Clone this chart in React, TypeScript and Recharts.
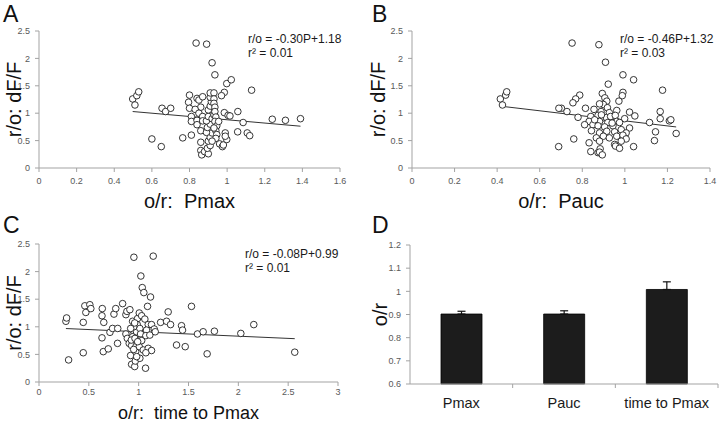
import React from "react";
import {
  ScatterChart,
  Scatter,
  XAxis,
  YAxis,
  ReferenceLine,
  BarChart,
  Bar,
  ErrorBar,
} from "recharts";

const FONT = "'Liberation Sans', Arial, sans-serif";
const AXIS_GRAY = "#a3a3a3";
const TICK_TEXT = "#595959";
const INK = "#111";

// o/r value vs r/o dF/F
const pmaxPoints: [number, number][] = [
  [0.835, 2.28], [0.891, 2.26], [0.92, 1.92], [0.935, 1.7], [0.998, 1.54], [1.022, 1.61],
  [1.13, 1.42], [0.985, 1.38], [0.498, 1.26], [0.51, 1.15], [0.52, 1.32], [0.53, 1.39],
  [0.654, 1.09], [0.673, 1.03], [0.7, 1.09], [0.6, 0.53], [0.65, 0.39], [0.764, 0.55],
  [0.81, 0.6], [0.8, 1.33], [0.795, 1.2], [0.8, 1.09], [0.84, 1.27], [0.85, 1.24],
  [0.86, 1.11], [0.83, 1.07], [0.85, 1.0], [0.81, 0.94], [0.81, 0.85], [0.84, 0.87],
  [0.84, 0.79], [0.87, 0.94], [0.87, 0.86], [0.86, 0.68], [0.86, 0.47], [0.86, 0.32],
  [0.865, 0.24], [0.88, 0.3], [0.9, 0.26], [0.895, 0.36], [0.91, 0.41], [0.9, 0.49],
  [0.91, 0.56], [0.92, 0.64], [0.89, 0.65], [0.895, 0.74], [0.91, 0.8], [0.89, 0.86],
  [0.9, 0.94], [0.92, 0.9], [0.93, 0.97], [0.9, 1.06], [0.91, 1.13], [0.916, 1.21],
  [0.91, 1.29], [0.91, 1.37], [0.93, 1.37], [0.93, 1.26], [0.93, 1.18], [0.935, 1.11],
  [0.935, 1.03], [0.94, 0.93], [0.935, 0.85], [0.945, 0.77], [0.94, 0.68], [0.945, 0.61],
  [0.94, 0.54], [0.955, 0.85], [0.93, 0.73], [0.92, 0.49], [0.96, 0.44], [0.975, 0.39],
  [0.98, 0.42], [0.99, 0.64], [0.998, 0.52], [0.99, 0.58], [0.985, 1.01], [1.005, 0.96],
  [1.015, 0.95], [1.057, 1.03], [1.056, 0.66], [1.085, 0.83], [1.107, 0.64], [1.12, 0.59],
  [1.24, 0.89], [1.31, 0.87], [1.39, 0.9], [0.97, 1.32], [0.87, 1.3],
];

const paucPoints: [number, number][] = [
  [0.752, 2.28], [0.878, 2.25], [0.909, 1.93], [0.991, 1.7], [1.041, 1.61], [0.922, 1.53],
  [1.177, 1.42], [0.991, 1.38], [0.988, 1.32], [0.972, 1.22], [0.788, 1.33], [0.769, 1.26],
  [0.756, 1.19], [0.894, 1.36], [0.906, 1.28], [0.915, 1.22], [0.899, 1.16], [0.918, 1.1],
  [0.881, 1.17], [0.702, 1.09], [0.69, 1.09], [0.728, 1.03], [0.815, 1.09], [0.855, 1.07],
  [0.888, 1.03], [0.927, 1.01], [0.962, 1.05], [1.022, 1.02], [1.047, 0.95], [0.78, 0.925],
  [0.84, 0.94], [0.874, 0.96], [0.894, 0.91], [0.913, 0.92], [0.933, 0.94], [0.955, 0.96],
  [0.999, 0.9], [0.881, 0.85], [0.92, 0.83], [0.962, 0.85], [0.832, 0.85], [0.811, 0.79],
  [0.85, 0.79], [0.874, 0.77], [0.905, 0.75], [0.944, 0.77], [0.975, 0.83], [1.022, 0.73],
  [1.116, 0.83], [1.166, 1.03], [1.166, 0.9], [1.209, 0.86], [1.216, 0.88], [1.241, 0.63],
  [1.144, 0.66], [1.139, 0.5], [0.843, 0.68], [0.881, 0.64], [0.915, 0.67], [0.952, 0.66],
  [0.983, 0.7], [1.006, 0.64], [0.866, 0.55], [0.899, 0.58], [0.927, 0.55], [0.962, 0.58],
  [0.991, 0.6], [1.006, 0.53], [0.76, 0.53], [0.832, 0.46], [0.881, 0.49], [0.952, 0.43],
  [0.983, 0.49], [0.956, 0.4], [0.975, 0.36], [1.041, 0.39], [0.689, 0.39], [0.884, 0.35],
  [0.84, 0.3], [0.874, 0.28], [0.881, 0.29], [0.894, 0.24], [0.858, 0.88], [0.94, 0.82],
  [0.89, 0.97], [0.415, 1.26], [0.425, 1.15], [0.44, 1.33], [0.445, 1.39],
];

const timePoints: [number, number][] = [
  [0.952, 2.26], [1.146, 2.28], [1.022, 1.92], [1.036, 1.71], [1.052, 1.62], [1.119, 1.54],
  [1.089, 1.37], [1.53, 1.37], [1.296, 1.27], [0.27, 1.1], [0.277, 1.16], [0.297, 0.4],
  [0.444, 1.08], [0.444, 0.53], [0.46, 1.38], [0.47, 1.26], [0.51, 1.4], [0.52, 1.33],
  [0.635, 1.33], [0.632, 1.2], [0.65, 1.08], [0.632, 0.8], [0.645, 0.55], [0.695, 0.6],
  [0.712, 0.9], [0.738, 0.97], [0.752, 1.23], [0.77, 1.33], [0.79, 0.97], [0.788, 0.7],
  [0.839, 1.42], [0.872, 1.22], [0.882, 1.28], [0.912, 1.31], [0.872, 0.87], [0.886, 0.79],
  [0.905, 0.7], [0.929, 0.66], [0.939, 1.1], [0.939, 0.94], [0.939, 0.82], [0.926, 0.76],
  [0.919, 0.48], [0.929, 0.32], [0.96, 0.28], [0.966, 0.38], [0.97, 0.55], [0.972, 0.64],
  [0.963, 0.79], [0.979, 0.91], [0.986, 1.04], [0.989, 1.15], [1.006, 1.25], [1.03, 1.2],
  [1.012, 0.97], [1.019, 0.87], [1.012, 0.76], [1.006, 0.64], [1.012, 0.43], [1.046, 0.58],
  [1.069, 0.25], [1.03, 0.75], [1.062, 1.14], [1.096, 1.04], [1.079, 0.94], [1.072, 0.84],
  [1.129, 1.04], [1.112, 0.85], [1.156, 0.96], [1.166, 0.91], [1.096, 0.61], [1.129, 0.57],
  [1.072, 0.53], [1.22, 1.08], [1.28, 1.1], [1.32, 1.04], [1.38, 0.67], [1.467, 0.64],
  [1.43, 1.02], [1.44, 0.94], [1.59, 0.87], [1.647, 0.91], [1.76, 0.92], [1.687, 0.51],
  [2.025, 0.88], [2.155, 1.04], [2.566, 0.54], [0.95, 1.0], [0.92, 0.97], [0.96, 1.07],
  [0.99, 0.73], [0.95, 0.59], [0.98, 0.46],
];

const rTicks = [0, 0.5, 1, 1.5, 2, 2.5];
const pmaxTicks = [0, 0.2, 0.4, 0.6, 0.8, 1, 1.2, 1.4, 1.6];
const paucTicks = [0, 0.2, 0.4, 0.6, 0.8, 1, 1.2, 1.4];
const timeTicks = [0, 0.5, 1, 1.5, 2, 2.5, 3];

// linear fits printed on the panels
const fitSlopes = [-0.3, -0.46, -0.08];
const fitIntercepts = [1.18, 1.32, 0.99];
const fitEquations = ["r/o = -0.30P+1.18", "r/o = -0.46P+1.32", "r/o = -0.08P+0.99"];
const fitR2 = ["r² = 0.01", "r² = 0.03", "r² = 0.01"];

// panel D
const barCategories = ["Pmax", "Pauc", "time to Pmax"];
const barMeans = [0.902, 0.902, 1.008];
const barErrors = [0.012, 0.014, 0.033];
const barTicks = [0.6, 0.7, 0.8, 0.9, 1, 1.1, 1.2];

const Ring = (props: any) => (
  <circle cx={props.cx} cy={props.cy} r={3.3} fill="#fff" stroke="#1f1f1f" strokeWidth={0.9} />
);

interface ScatterPanelProps {
  points: [number, number][];
  fit: number;
  xMax: number;
  xTicks: number[];
  xTitle: string;
  left: number;
  top: number;
  marginTop: number;
  marginRight: number;
  yAxisWidth: number;
  xAxisHeight: number;
  xTickMargin: number;
  yTitleOffset: number;
  xTitleOffset: number;
  xTitleSize: number;
}

function ScatterPanel(p: ScatterPanelProps) {
  const data = p.points.map(([x, y]) => ({ x, y }));
  const xs = p.points.map((d) => d[0]);
  const x0 = Math.min(...xs);
  const x1 = Math.max(...xs);
  const m = fitSlopes[p.fit];
  const b = fitIntercepts[p.fit];

  return (
    <div style={{ position: "absolute", left: p.left, top: p.top }}>
      <ScatterChart
        width={360}
        height={211}
        margin={{ top: p.marginTop, right: p.marginRight, bottom: 0, left: 0 }}
      >
        <XAxis
          type="number"
          dataKey="x"
          domain={[0, p.xMax]}
          ticks={p.xTicks}
          interval={0}
          height={p.xAxisHeight}
          axisLine={{ stroke: AXIS_GRAY }}
          tickLine={{ stroke: AXIS_GRAY }}
          tickSize={4}
          tickMargin={p.xTickMargin}
          tick={{ fill: TICK_TEXT, fontSize: 9, fontFamily: FONT }}
          label={{
            value: p.xTitle,
            position: "insideBottom",
            offset: p.xTitleOffset,
            fill: INK,
            fontSize: p.xTitleSize,
            fontFamily: FONT,
          }}
        />
        <YAxis
          type="number"
          dataKey="y"
          domain={[0, 2.5]}
          ticks={rTicks}
          interval={0}
          width={p.yAxisWidth}
          axisLine={{ stroke: AXIS_GRAY }}
          tickLine={{ stroke: AXIS_GRAY }}
          tickSize={4}
          tickMargin={5}
          tick={{ fill: TICK_TEXT, fontSize: 9, fontFamily: FONT }}
          label={{
            value: "r/o: dF/F",
            angle: -90,
            position: "insideLeft",
            offset: p.yTitleOffset,
            style: { textAnchor: "middle" },
            fill: INK,
            fontSize: 20,
            fontFamily: FONT,
          }}
        />
        <ReferenceLine
          segment={[
            { x: x0, y: m * x0 + b },
            { x: x1, y: m * x1 + b },
          ]}
          stroke="#333"
          strokeWidth={1}
        />
        <Scatter data={data} shape={Ring} isAnimationActive={false} />
      </ScatterChart>
    </div>
  );
}

const D_LEFT = 360;
const D_YAXIS = 50;
const D_RIGHT = 2;
const HALF_BAND = (360 - D_YAXIS - D_RIGHT) / barCategories.length / 2;

const CategoryTick = (props: any) => {
  const { x, y, payload } = props;
  return (
    <g>
      <line x1={x + HALF_BAND} x2={x + HALF_BAND} y1={y} y2={y + 4} stroke={AXIS_GRAY} />
      <text x={x} y={y + 24} textAnchor="middle" fontSize={14.5} fill="#1a1a1a" fontFamily={FONT}>
        {payload.value}
      </text>
    </g>
  );
};

function BarPanel() {
  const data = barCategories.map((name, i) => ({
    name,
    mean: barMeans[i],
    err: [0, barErrors[i]],
  }));
  return (
    <div style={{ position: "absolute", left: D_LEFT, top: 211 }}>
      <BarChart
        width={360}
        height={211}
        data={data}
        margin={{ top: 34, right: D_RIGHT, bottom: 0, left: 0 }}
      >
        <XAxis
          dataKey="name"
          type="category"
          interval={0}
          height={38}
          axisLine={{ stroke: AXIS_GRAY }}
          tickLine={false}
          tickSize={0}
          tickMargin={0}
          tick={<CategoryTick />}
        />
        <YAxis
          type="number"
          domain={[0.6, 1.2]}
          ticks={barTicks}
          interval={0}
          width={D_YAXIS}
          axisLine={{ stroke: AXIS_GRAY }}
          tickLine={{ stroke: AXIS_GRAY }}
          tickSize={4}
          tickMargin={5}
          tick={{ fill: TICK_TEXT, fontSize: 9, fontFamily: FONT }}
          label={{
            value: "o/r",
            angle: -90,
            position: "insideLeft",
            offset: 20,
            style: { textAnchor: "middle" },
            fill: INK,
            fontSize: 20,
            fontFamily: FONT,
          }}
        />
        <Bar dataKey="mean" fill="#1c1c1c" stroke="#000" strokeWidth={0.8} barSize={41} isAnimationActive={false}>
          <ErrorBar dataKey="err" direction="y" width={4} stroke="#111" strokeWidth={1.2} />
        </Bar>
      </BarChart>
    </div>
  );
}

const letterStyle: React.CSSProperties = {
  position: "absolute",
  fontFamily: FONT,
  fontSize: 23,
  lineHeight: "23px",
  color: INK,
};

const eqStyle: React.CSSProperties = {
  position: "absolute",
  fontFamily: FONT,
  fontSize: 12,
  lineHeight: "14px",
  color: "#1a1a1a",
  whiteSpace: "nowrap",
};

export default function App() {
  return (
    <div
      style={{
        position: "absolute",
        left: 0,
        top: 0,
        width: 720,
        height: 422,
        background: "#fff",
        overflow: "hidden",
      }}
    >
      <ScatterPanel
        points={pmaxPoints}
        fit={0}
        xMax={1.6}
        xTicks={pmaxTicks}
        xTitle={"o/r:\u00A0 Pmax"}
        left={0}
        top={0}
        marginTop={31}
        marginRight={20}
        yAxisWidth={39}
        xAxisHeight={43}
        xTickMargin={6}
        yTitleOffset={14}
        xTitleOffset={3}
        xTitleSize={20}
      />
      <ScatterPanel
        points={paucPoints}
        fit={1}
        xMax={1.4}
        xTicks={paucTicks}
        xTitle={"o/r:\u00A0 Pauc"}
        left={360}
        top={0}
        marginTop={31}
        marginRight={10}
        yAxisWidth={52}
        xAxisHeight={43}
        xTickMargin={6}
        yTitleOffset={18}
        xTitleOffset={3}
        xTitleSize={20}
      />
      <ScatterPanel
        points={timePoints}
        fit={2}
        xMax={3}
        xTicks={timeTicks}
        xTitle={"o/r:\u00A0 time to Pmax"}
        left={0}
        top={211}
        marginTop={33}
        marginRight={22}
        yAxisWidth={39}
        xAxisHeight={40}
        xTickMargin={3}
        yTitleOffset={14}
        xTitleOffset={3}
        xTitleSize={18}
      />
      <BarPanel />

      <div style={{ ...letterStyle, left: 3, top: 3 }}>A</div>
      <div style={{ ...letterStyle, left: 372, top: 3 }}>B</div>
      <div style={{ ...letterStyle, left: 3, top: 214 }}>C</div>
      <div style={{ ...letterStyle, left: 372, top: 214 }}>D</div>

      <div style={{ ...eqStyle, left: 248, top: 32 }}>
        {fitEquations[0]}
        <br />
        {fitR2[0]}
      </div>
      <div style={{ ...eqStyle, left: 620, top: 32 }}>
        {fitEquations[1]}
        <br />
        {fitR2[1]}
      </div>
      <div style={{ ...eqStyle, left: 245, top: 247 }}>
        {fitEquations[2]}
        <br />
        {fitR2[2]}
      </div>
    </div>
  );
}
